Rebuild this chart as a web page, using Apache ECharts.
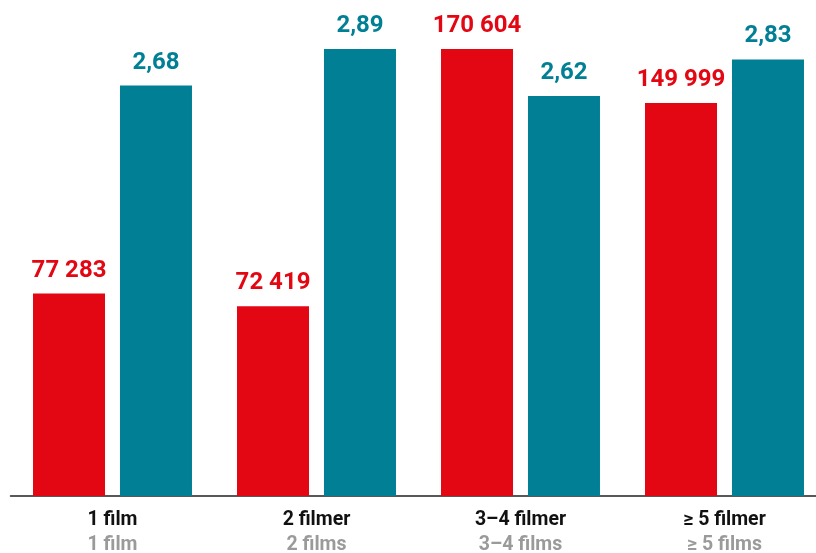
<!DOCTYPE html>
<html>
<head>
<meta charset="utf-8">
<script src="https://cdn.jsdelivr.net/npm/echarts@6/dist/echarts.min.js"></script>
<style>html,body{margin:0;padding:0;background:#fff}#c{width:816px;height:553px}</style>
</head>
<body>
<div id="c"></div>
<script>
const categoriesSv = ['1 film', '2 filmer', '3–4 filmer', '≥ 5 filmer'];
const categoriesEn = ['1 film', '2 films', '3–4 films', '≥ 5 films'];
const redValues = [77283, 72419, 170604, 149999];
const tealValues = [2.68, 2.89, 2.62, 2.83];

const chart = echarts.init(document.getElementById('c'));
const fmtRed = v => String(v).replace(/\B(?=(\d{3})+(?!\d))/g, ' ');
const fmtTeal = v => v.toFixed(2).replace('.', ',');

chart.setOption({
  animation: false,
  grid: { left: 10.5, right: -10.5, top: 49, bottom: 57, containLabel: false, outerBoundsMode: 'none' },
  xAxis: {
    type: 'category',
    data: categoriesSv.map((c, i) => c + '\n' + categoriesEn[i]),
    axisTick: { show: false },
    axisLine: { lineStyle: { color: '#222', width: 1.5 } },
    axisLabel: {
      margin: 12,
      interval: 0,
      formatter: (v) => { const p = v.split('\n'); return '{a|' + p[0] + '}\n{b|' + p[1] + '}'; },
      rich: {
        a: { fontFamily: 'Roboto', fontWeight: 'bold', fontSize: 19.5, color: '#111', lineHeight: 25 },
        b: { fontFamily: 'Roboto', fontWeight: 'bold', fontSize: 19.5, color: '#9a9a9a', lineHeight: 25 }
      }
    }
  },
  yAxis: [
    { type: 'value', min: 0, max: 170604, show: false, splitLine: { show: false } },
    { type: 'value', min: 0.32, max: 2.89, show: false, splitLine: { show: false } }
  ],
  series: [
    {
      type: 'bar', yAxisIndex: 0, data: redValues, barWidth: 72, barGap: '20.8%',
      itemStyle: { color: '#e30613' },
      label: { show: true, position: 'top', distance: 11, formatter: p => fmtRed(p.value),
        fontFamily: 'Roboto', fontWeight: 'bold', fontSize: 24, color: '#e30613' }
    },
    {
      type: 'bar', yAxisIndex: 1, data: tealValues, barWidth: 72,
      itemStyle: { color: '#007f95' },
      label: { show: true, position: 'top', distance: 11, formatter: p => fmtTeal(p.value),
        fontFamily: 'Roboto', fontWeight: 'bold', fontSize: 24, color: '#007f95' }
    }
  ]
});
</script>
</body>
</html>
